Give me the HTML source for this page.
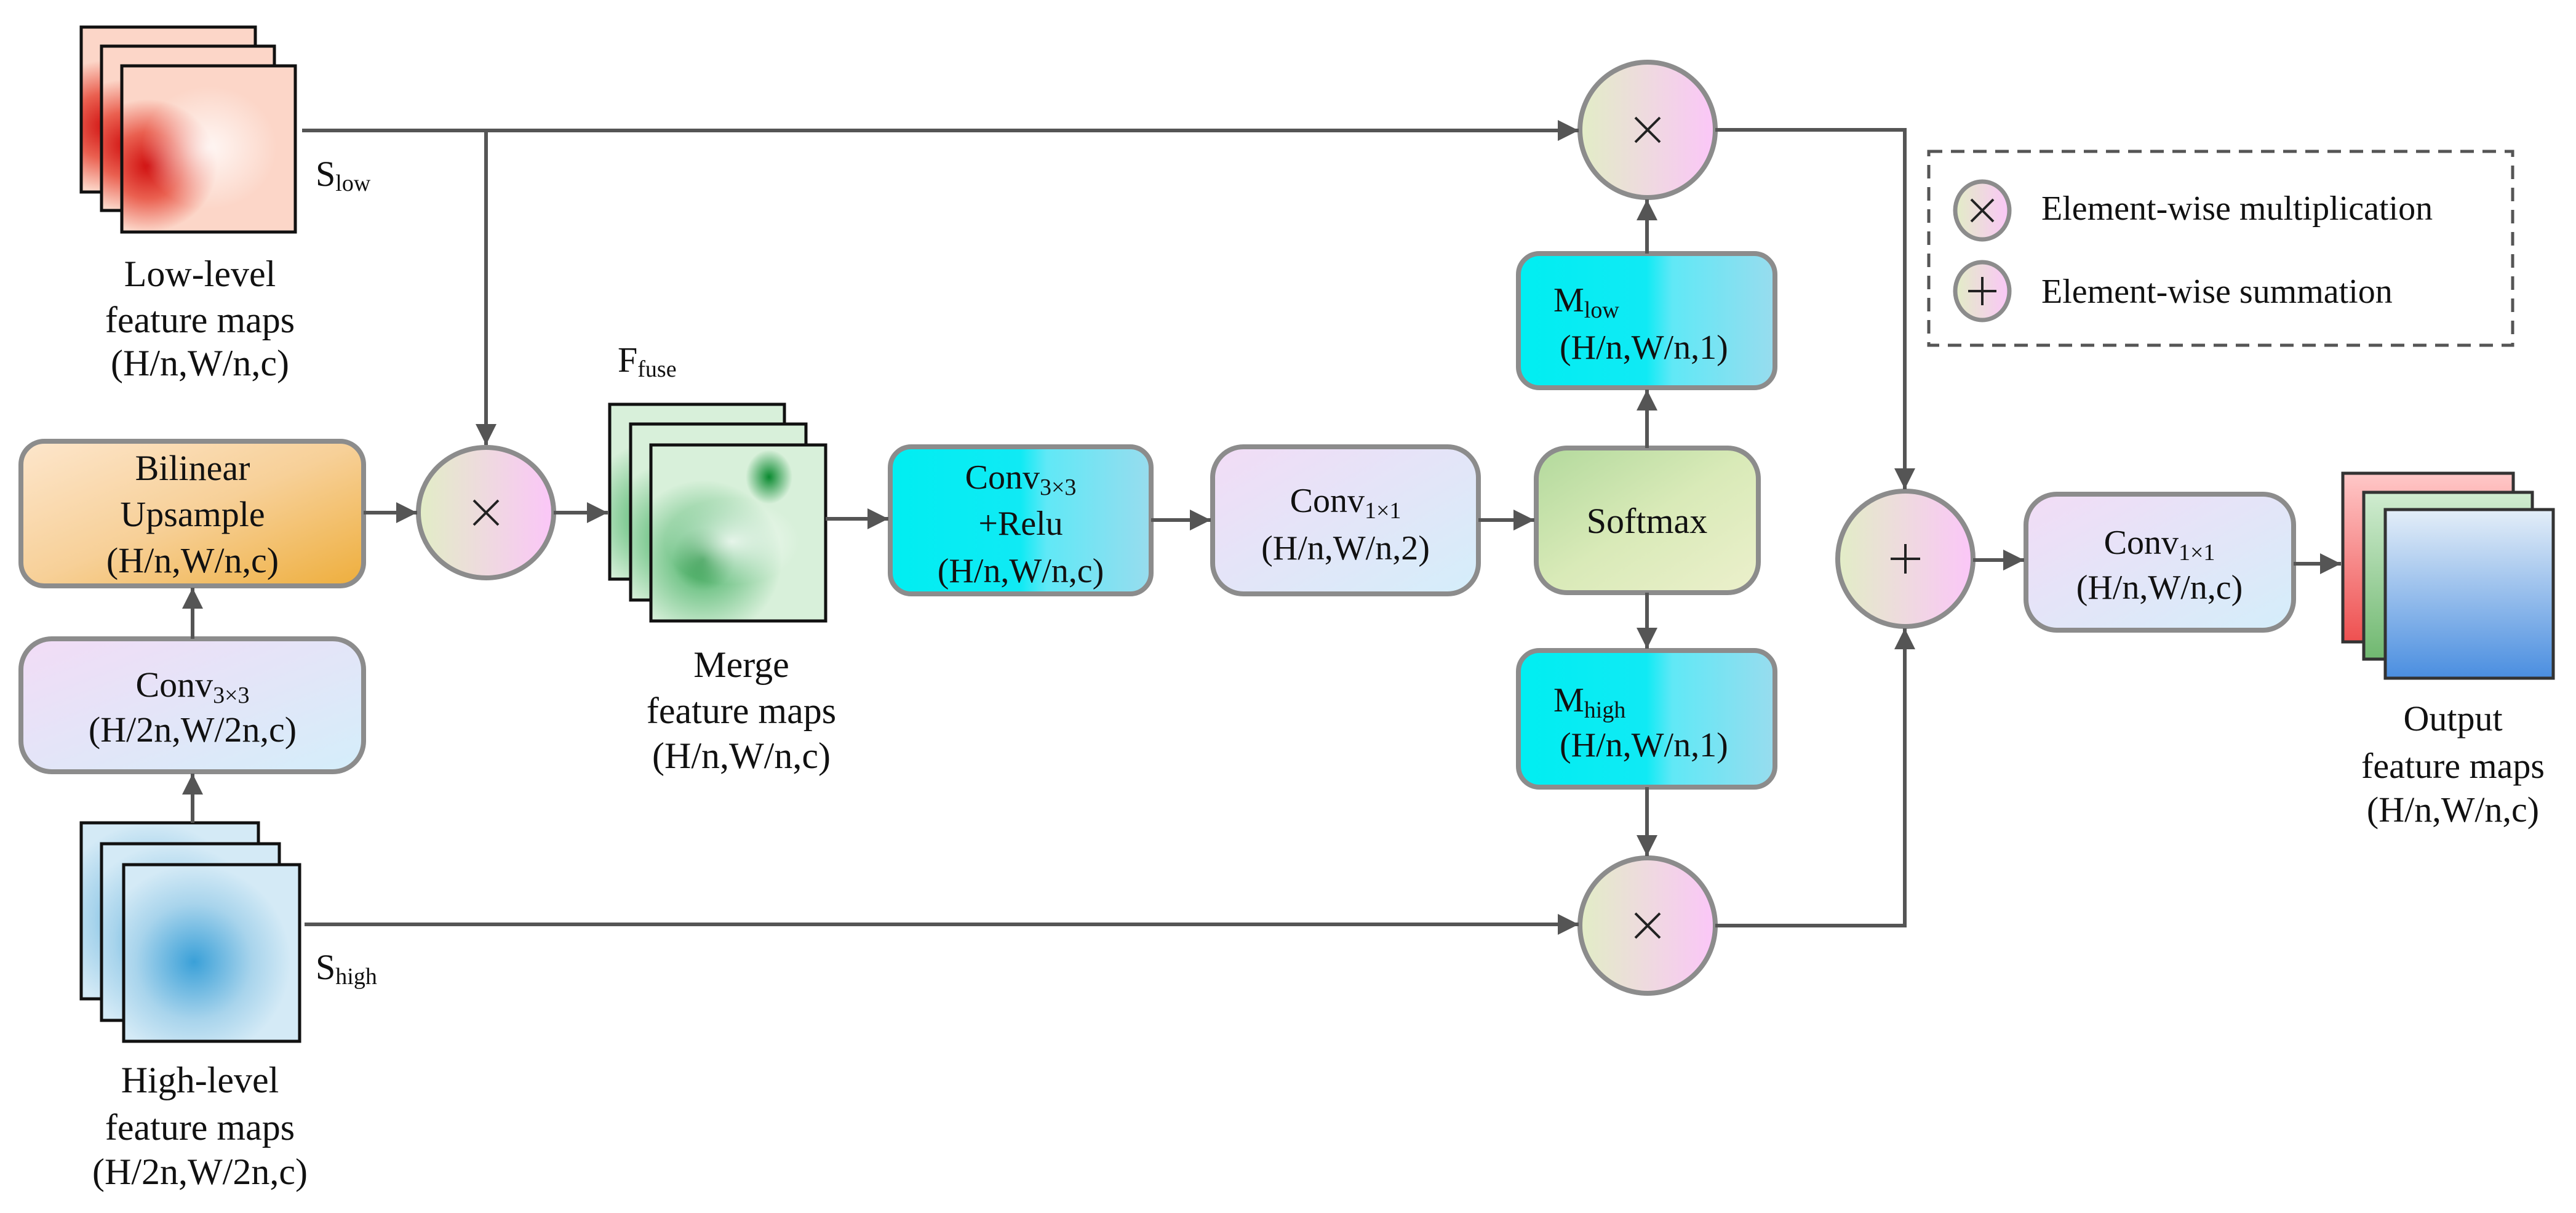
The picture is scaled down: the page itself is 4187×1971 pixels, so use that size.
<!DOCTYPE html>
<html><head><meta charset="utf-8"><style>
html,body{margin:0;padding:0;background:#fff}
svg{display:block}
svg text{font-family:"Liberation Serif","Times New Roman","DejaVu Serif",serif;fill:#111}
</style></head><body>
<svg width="4187" height="1971" viewBox="0 0 4187 1971" xmlns="http://www.w3.org/2000/svg" font-family="Liberation Serif, DejaVu Serif, serif">
<defs>
<marker id="ar" markerUnits="userSpaceOnUse" markerWidth="40" markerHeight="40" refX="34" refY="17" orient="auto">
<path d="M0,0 L34,17 L0,34 Z" fill="#555"/></marker>
<linearGradient id="circ" x1="0" y1="0" x2="1" y2="0"><stop offset="0" stop-color="#e2edc6"/><stop offset="1" stop-color="#fbc6f8"/></linearGradient>
<linearGradient id="cyan" x1="0" y1="0" x2="1" y2="0"><stop offset="0" stop-color="#00eef2"/><stop offset="0.5" stop-color="#10eaf4"/><stop offset="0.6" stop-color="#60e8f6"/><stop offset="1" stop-color="#98dcee"/></linearGradient>
<linearGradient id="lav" x1="0" y1="0" x2="1" y2="1"><stop offset="0" stop-color="#f2dcf6"/><stop offset="1" stop-color="#d4eefa"/></linearGradient>
<linearGradient id="soft" x1="0" y1="0" x2="1" y2="1"><stop offset="0" stop-color="#b2d99c"/><stop offset="0.5" stop-color="#d9eab8"/><stop offset="1" stop-color="#ecf0cc"/></linearGradient>
<linearGradient id="bil" x1="0" y1="0" x2="1" y2="1"><stop offset="0" stop-color="#fde6cc"/><stop offset="0.5" stop-color="#f7d098"/><stop offset="1" stop-color="#eeae3c"/></linearGradient>
<radialGradient id="redb" cx="0.15" cy="0.6" r="0.4"><stop offset="0" stop-color="#d01010"/><stop offset="0.5" stop-color="#ea6050"/><stop offset="1" stop-color="#fcd6c8"/></radialGradient>
<radialGradient id="greenb" cx="0.3" cy="0.65" r="0.45"><stop offset="0" stop-color="#108a30"/><stop offset="0.4" stop-color="#7cc890"/><stop offset="1" stop-color="#d8f0da"/></radialGradient>
<radialGradient id="blueb" cx="0.4" cy="0.55" r="0.55"><stop offset="0" stop-color="#3aa0d8"/><stop offset="0.6" stop-color="#a8d4ec"/><stop offset="1" stop-color="#d4eaf6"/></radialGradient>
<radialGradient id="wh" cx="0.5" cy="0.5" r="0.5"><stop offset="0" stop-color="#fff" stop-opacity="0.8"/><stop offset="1" stop-color="#fff" stop-opacity="0"/></radialGradient>
<radialGradient id="gdot" cx="0.5" cy="0.5" r="0.5"><stop offset="0" stop-color="#0a8a30"/><stop offset="1" stop-color="#0a8a30" stop-opacity="0"/></radialGradient>
<linearGradient id="outR" x1="0" y1="0" x2="0" y2="1"><stop offset="0" stop-color="#ffc8c8"/><stop offset="1" stop-color="#ee5050"/></linearGradient>
<linearGradient id="outG" x1="0" y1="0" x2="0" y2="1"><stop offset="0" stop-color="#d0ecd0"/><stop offset="1" stop-color="#70b870"/></linearGradient>
<linearGradient id="outB" x1="0" y1="0" x2="0" y2="1"><stop offset="0" stop-color="#e4eef8"/><stop offset="1" stop-color="#4a8ee0"/></linearGradient>
</defs>

<!-- Low-level maps -->
<g stroke="#111" stroke-width="5">
<rect x="132" y="44" width="283" height="268" fill="url(#redb)"/>
<rect x="165" y="75" width="281" height="267" fill="url(#redb)"/>
<rect x="198" y="107" width="282" height="270" fill="url(#redb)"/>
</g>
<ellipse cx="340" cy="240" rx="110" ry="100" fill="url(#wh)"/>
<text x="513" y="302" font-size="58">S<tspan font-size="38" dy="8">low</tspan></text>
<g font-size="60" text-anchor="middle">
<text x="325" y="465">Low-level</text>
<text x="325" y="540">feature maps</text>
<text x="325" y="610">(H/n,W/n,c)</text>
</g>

<!-- Bilinear -->
<rect x="34" y="717" width="557" height="235" rx="38" fill="url(#bil)" stroke="#8c8c8c" stroke-width="8"/>
<g font-size="58" text-anchor="middle">
<text x="313" y="780">Bilinear</text>
<text x="313" y="855">Upsample</text>
<text x="313" y="930">(H/n,W/n,c)</text>
</g>
<!-- Conv3x3 left -->
<rect x="34" y="1038" width="557" height="216" rx="50" fill="url(#lav)" stroke="#8c8c8c" stroke-width="8"/>
<g font-size="58" text-anchor="middle">
<text x="313" y="1132">Conv<tspan font-size="38" dy="10">3×3</tspan></text>
<text x="313" y="1205">(H/2n,W/2n,c)</text>
</g>

<!-- High maps -->
<g stroke="#111" stroke-width="5">
<rect x="132" y="1337" width="288" height="286" fill="url(#blueb)"/>
<rect x="165" y="1371" width="289" height="287" fill="url(#blueb)"/>
<rect x="201" y="1405" width="286" height="287" fill="url(#blueb)"/>
</g>
<text x="513" y="1591" font-size="58">S<tspan font-size="38" dy="8">high</tspan></text>
<g font-size="60" text-anchor="middle">
<text x="325" y="1775">High-level</text>
<text x="325" y="1852">feature maps</text>
<text x="325" y="1924">(H/2n,W/2n,c)</text>
</g>

<!-- circle 1 -->
<ellipse cx="790" cy="833" rx="110" ry="106" fill="url(#circ)" stroke="#8c8c8c" stroke-width="8"/>

<!-- Green maps -->
<text x="1004" y="604" font-size="58">F<tspan font-size="38" dy="8">fuse</tspan></text>
<g stroke="#111" stroke-width="5">
<rect x="991" y="657" width="284" height="284" fill="url(#greenb)"/>
<rect x="1025" y="689" width="285" height="286" fill="url(#greenb)"/>
<rect x="1058" y="723" width="284" height="286" fill="url(#greenb)"/>
</g>
<ellipse cx="1190" cy="880" rx="110" ry="70" fill="url(#wh)"/>
<ellipse cx="1250" cy="775" rx="38" ry="44" fill="url(#gdot)"/>
<g font-size="60" text-anchor="middle">
<text x="1205" y="1100">Merge</text>
<text x="1205" y="1175">feature maps</text>
<text x="1205" y="1248">(H/n,W/n,c)</text>
</g>

<!-- Relu box -->
<rect x="1447" y="726" width="424" height="239" rx="34" fill="url(#cyan)" stroke="#8c8c8c" stroke-width="8"/>
<g font-size="56" text-anchor="middle">
<text x="1659" y="794">Conv<tspan font-size="38" dy="10">3×3</tspan></text>
<text x="1659" y="869">+Relu</text>
<text x="1659" y="946">(H/n,W/n,c)</text>
</g>
<!-- Conv1x1 mid -->
<rect x="1971" y="726" width="432" height="239" rx="50" fill="url(#lav)" stroke="#8c8c8c" stroke-width="8"/>
<g font-size="56" text-anchor="middle">
<text x="2187" y="832">Conv<tspan font-size="38" dy="10">1×1</tspan></text>
<text x="2187" y="909">(H/n,W/n,2)</text>
</g>
<!-- Softmax -->
<rect x="2497" y="728" width="361" height="235" rx="50" fill="url(#soft)" stroke="#8c8c8c" stroke-width="8"/>
<text x="2677" y="866" font-size="58" text-anchor="middle">Softmax</text>
<!-- Mlow -->
<rect x="2468" y="412" width="417" height="218" rx="34" fill="url(#cyan)" stroke="#8c8c8c" stroke-width="8"/>
<text x="2525" y="506" font-size="56">M<tspan font-size="38" dy="10">low</tspan></text>
<text x="2535" y="583" font-size="56">(H/n,W/n,1)</text>
<!-- Mhigh -->
<rect x="2468" y="1057" width="417" height="222" rx="34" fill="url(#cyan)" stroke="#8c8c8c" stroke-width="8"/>
<text x="2525" y="1156" font-size="56">M<tspan font-size="38" dy="10">high</tspan></text>
<text x="2535" y="1229" font-size="56">(H/n,W/n,1)</text>

<!-- top / bottom × circles -->
<ellipse cx="2678" cy="211" rx="110" ry="110" fill="url(#circ)" stroke="#8c8c8c" stroke-width="8"/>
<ellipse cx="2678" cy="1504" rx="110" ry="110" fill="url(#circ)" stroke="#8c8c8c" stroke-width="8"/>
<!-- + circle -->
<ellipse cx="3097" cy="908" rx="110" ry="110" fill="url(#circ)" stroke="#8c8c8c" stroke-width="8"/>

<!-- Conv1x1 right -->
<rect x="3293" y="803" width="435" height="221" rx="50" fill="url(#lav)" stroke="#8c8c8c" stroke-width="8"/>
<g font-size="56" text-anchor="middle">
<text x="3510" y="900">Conv<tspan font-size="38" dy="10">1×1</tspan></text>
<text x="3510" y="973">(H/n,W/n,c)</text>
</g>
<!-- Output maps -->
<g stroke="#333" stroke-width="5">
<rect x="3808" y="769" width="277" height="274" fill="url(#outR)"/>
<rect x="3842" y="800" width="274" height="271" fill="url(#outG)"/>
<rect x="3877" y="828" width="273" height="274" fill="url(#outB)"/>
</g>
<g font-size="58" text-anchor="middle">
<text x="3987" y="1187">Output</text>
<text x="3987" y="1264">feature maps</text>
<text x="3987" y="1335">(H/n,W/n,c)</text>
</g>

<!-- Legend -->
<rect x="3135" y="246" width="949" height="315" fill="none" stroke="#555" stroke-width="5" stroke-dasharray="22,14"/>
<ellipse cx="3222" cy="342" rx="44" ry="47" fill="url(#circ)" stroke="#8c8c8c" stroke-width="7"/>
<ellipse cx="3222" cy="473" rx="44" ry="47" fill="url(#circ)" stroke="#8c8c8c" stroke-width="7"/>
<text x="3318" y="357" font-size="56">Element-wise multiplication</text>
<text x="3318" y="492" font-size="56">Element-wise summation</text>

<!-- operator glyphs as strokes -->
<g stroke="#222" stroke-width="4" fill="none">
<path d="M770,813 L810,853 M810,813 L770,853"/>
<path d="M2658,191 L2698,231 M2698,191 L2658,231"/>
<path d="M2658,1484 L2698,1524 M2698,1484 L2658,1524"/>
<path d="M3097,884 V932 M3073,908 H3121"/>
<path d="M3204,324 L3240,360 M3240,324 L3204,360"/>
<path d="M3222,450 V496 M3199,473 H3245"/>
</g>

<!-- connectors -->
<g stroke="#555" stroke-width="6" fill="none">
<path d="M491,212 H2566" marker-end="url(#ar)"/>
<path d="M790,212 V723" marker-end="url(#ar)"/>
<path d="M591,833 H678" marker-end="url(#ar)"/>
<path d="M900,833 H988" marker-end="url(#ar)"/>
<path d="M1342,843 H1444" marker-end="url(#ar)"/>
<path d="M1871,845 H1968" marker-end="url(#ar)"/>
<path d="M2403,845 H2494" marker-end="url(#ar)"/>
<path d="M2677,728 V633" marker-end="url(#ar)"/>
<path d="M2677,412 V324" marker-end="url(#ar)"/>
<path d="M2677,963 V1054" marker-end="url(#ar)"/>
<path d="M2677,1279 V1391" marker-end="url(#ar)"/>
<path d="M495,1502 H2566" marker-end="url(#ar)"/>
<path d="M2788,211 H3096 V795" marker-end="url(#ar)"/>
<path d="M2788,1504 H3096 V1021" marker-end="url(#ar)"/>
<path d="M3207,910 H3290" marker-end="url(#ar)"/>
<path d="M3728,916 H3805" marker-end="url(#ar)"/>
<path d="M313,1038 V955" marker-end="url(#ar)"/>
<path d="M313,1337 V1257" marker-end="url(#ar)"/>
</g>
</svg>
</body></html>
